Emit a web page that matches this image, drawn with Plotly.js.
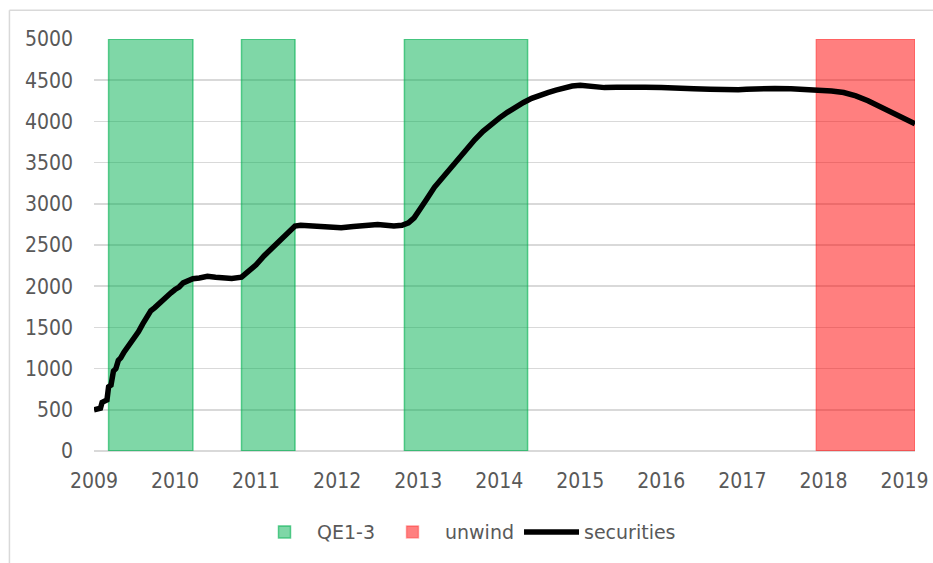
<!DOCTYPE html>
<html>
<head>
<meta charset="utf-8">
<script src="https://cdn.plot.ly/plotly-3.0.1.min.js"></script>
<style>html,body{margin:0;padding:0;background:#fff}#chart{width:933px;height:563px}</style>
</head>
<body>
<div id="chart"></div>
<script>
// QE periods (decimal years)
const qeStart = [2009.18, 2010.82, 2012.83];
const qeEnd   = [2010.22, 2011.48, 2014.35];
// unwind period
const unwindStart = [2017.91];
const unwindEnd   = [2019.13];
const bandTop = 5000;

// securities holdings (billions $), decimal year
const secYears = [2009.00,2009.05,2009.08,2009.10,2009.13,2009.16,2009.18,2009.21,2009.24,2009.27,2009.30,2009.33,2009.37,2009.41,2009.45,2009.50,2009.55,2009.60,2009.65,2009.70,2009.75,2009.80,2009.85,2009.90,2009.95,2010.00,2010.05,2010.10,2010.15,2010.22,2010.30,2010.40,2010.50,2010.60,2010.70,2010.82,2010.90,2011.00,2011.10,2011.20,2011.30,2011.40,2011.48,2011.55,2011.70,2011.85,2011.95,2012.05,2012.20,2012.35,2012.50,2012.60,2012.70,2012.80,2012.88,2012.95,2013.02,2013.10,2013.20,2013.30,2013.40,2013.50,2013.60,2013.70,2013.80,2013.90,2014.00,2014.10,2014.20,2014.30,2014.40,2014.50,2014.60,2014.70,2014.80,2014.90,2015.00,2015.15,2015.30,2015.45,2015.60,2015.80,2016.00,2016.20,2016.40,2016.60,2016.80,2016.95,2017.05,2017.20,2017.40,2017.60,2017.80,2017.95,2018.10,2018.25,2018.40,2018.55,2018.70,2018.85,2019.00,2019.13];
const secValues = [500,510,520,590,610,620,780,800,970,1000,1100,1130,1200,1250,1300,1380,1450,1540,1620,1700,1740,1790,1820,1880,1920,1960,1990,2040,2060,2090,2100,2120,2110,2100,2095,2110,2180,2260,2370,2470,2570,2670,2730,2740,2735,2730,2720,2710,2725,2740,2750,2740,2730,2740,2770,2830,2920,3050,3200,3320,3440,3560,3670,3780,3880,3970,4040,4110,4180,4230,4280,4320,4350,4380,4410,4430,4440,4420,4410,4415,4420,4415,4410,4410,4395,4390,4380,4385,4390,4400,4400,4395,4390,4385,4370,4350,4310,4250,4180,4110,4040,3970];

const xTicks = [2009,2010,2011,2012,2013,2014,2015,2016,2017,2018,2019];

const mid = (s, e) => s.map((v, i) => (v + e[i]) / 2);
const wid = (s, e) => s.map((v, i) => e[i] - v);

const traces = [
  {
    type: 'bar', name: 'QE1-3',
    x: mid(qeStart, qeEnd), width: wid(qeStart, qeEnd),
    y: qeStart.map(() => bandTop),
    marker: {color: 'rgba(0,176,80,0.5)', line: {color: 'rgba(0,176,80,0.6)', width: 1.5}},
    hoverinfo: 'skip'
  },
  {
    type: 'bar', name: 'unwind',
    x: mid(unwindStart, unwindEnd), width: wid(unwindStart, unwindEnd),
    y: unwindStart.map(() => bandTop),
    marker: {color: 'rgba(255,0,0,0.5)', line: {color: 'rgba(255,0,0,0.3)', width: 1.5}},
    hoverinfo: 'skip'
  },
  {
    type: 'scatter', mode: 'lines', name: 'securities',
    x: secYears, y: secValues,
    line: {color: '#000', width: 5.5, shape: 'linear'}
  }
];

const fontFam = '"DejaVu Sans Condensed", "DejaVu Sans", sans-serif';
const legFam = '"DejaVu Sans", sans-serif';

const layout = {
  width: 933, height: 563,
  margin: {l: 94, r: 18, t: 39, b: 112, autoexpand: false},
  paper_bgcolor: '#fff', plot_bgcolor: '#fff',
  font: {family: fontFam, size: 21, color: '#595959'},
  barmode: 'overlay', bargap: 0,
  showlegend: true,
  legend: {orientation: 'h', x: 0.5, xanchor: 'center', xref: 'container',
           y: 0.055, yanchor: 'middle', yref: 'container',
           font: {family: legFam, size: 19, color: '#595959'}, itemwidth: 55, traceorder: 'normal'},
  xaxis: {
    range: [2009, 2019.13], tickvals: xTicks, ticktext: xTicks.map(String),
    tickfont: {family: fontFam, size: 21, color: '#595959'},
    showgrid: false, zeroline: false, showline: false, ticks: '',
    ticklabelstandoff: 15, fixedrange: true
  },
  yaxis: {
    range: [0, 5000], dtick: 500, tick0: 0,
    tickfont: {family: fontFam, size: 21, color: '#595959'},
    showgrid: true, gridcolor: '#d9d9d9', gridwidth: 1.5,
    zeroline: true, zerolinecolor: '#d9d9d9', zerolinewidth: 1.5,
    showline: false, ticks: '', ticklabelstandoff: 20, fixedrange: true
  },
  shapes: [
    {type: 'line', xref: 'paper', yref: 'paper', x0: -0.103, x1: 1.03, y0: 1.07, y1: 1.07, line: {color: '#d9d9d9', width: 1.5}},
    {type: 'line', xref: 'paper', yref: 'paper', x0: -0.103, x1: -0.103, y0: 1.07, y1: -0.3, line: {color: '#d9d9d9', width: 1.5}}
  ]
};

Plotly.newPlot('chart', traces, layout, {displayModeBar: false, staticPlot: true});
</script>
</body>
</html>
